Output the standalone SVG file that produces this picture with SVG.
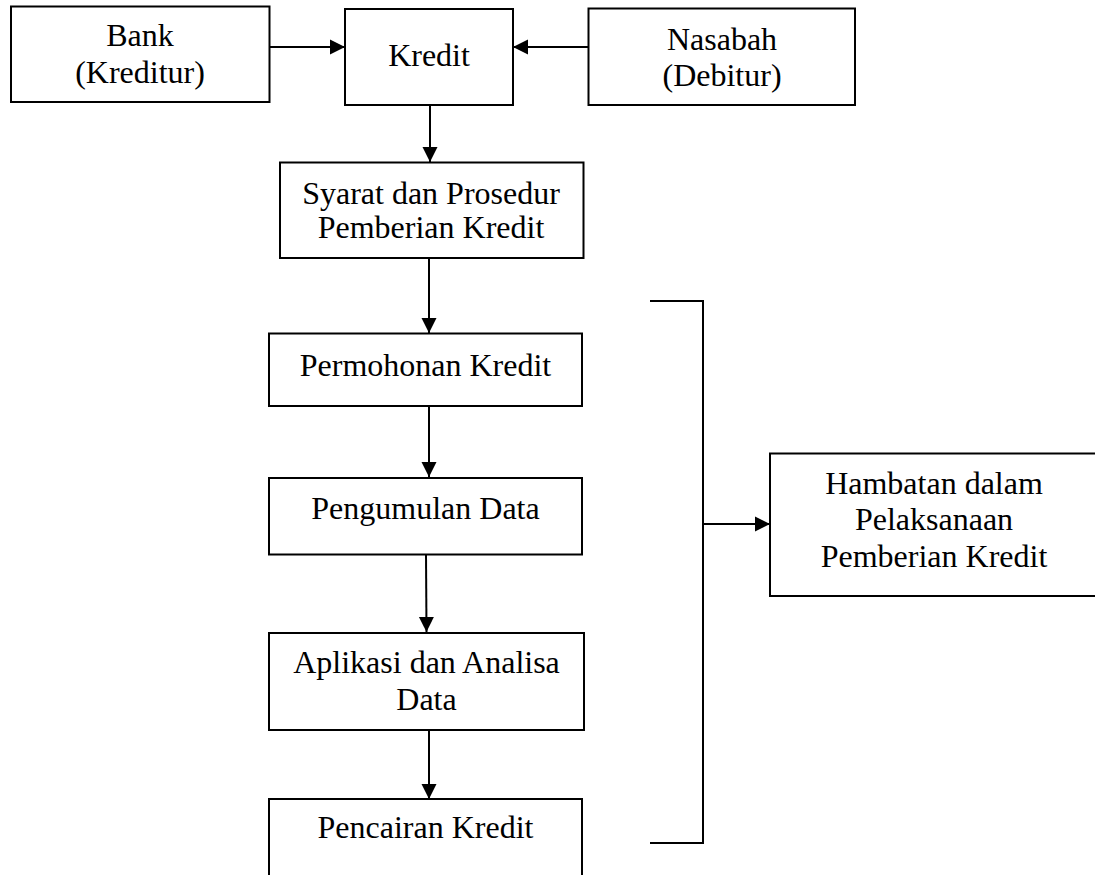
<svg xmlns="http://www.w3.org/2000/svg" width="1095" height="875" viewBox="0 0 1095 875">
<style>
.box{fill:#fff;stroke:#000;stroke-width:2}
.t{font-family:"Liberation Serif","Times New Roman",serif;font-size:32px;fill:#000;text-anchor:middle}
.c{fill:none;stroke:#000;stroke-width:2}
</style>
<defs>
<marker id="ah" markerUnits="userSpaceOnUse" markerWidth="16" markerHeight="16" refX="15" refY="8" orient="auto">
<path d="M0,0.5 L15,8 L0,15.5 Z" fill="#000"/>
</marker>
</defs>
<rect width="1095" height="875" fill="#fff"/>
<g id="connectors">
<line class="c" x1="270" y1="47" x2="345" y2="47" marker-end="url(#ah)"/>
<line class="c" x1="588" y1="47" x2="513" y2="47" marker-end="url(#ah)"/>
<line class="c" x1="430" y1="105" x2="430" y2="162" marker-end="url(#ah)"/>
<line class="c" x1="429" y1="258" x2="429" y2="333" marker-end="url(#ah)"/>
<line class="c" x1="429" y1="406" x2="429" y2="477" marker-end="url(#ah)"/>
<line class="c" x1="426" y1="554" x2="426.5" y2="632" marker-end="url(#ah)"/>
<line class="c" x1="429" y1="730" x2="429" y2="799" marker-end="url(#ah)"/>
<polyline class="c" points="650,301 703,301 703,843 650,843"/>
<line class="c" x1="703" y1="524" x2="770" y2="524" marker-end="url(#ah)"/>
</g>
<g id="bank">
<rect class="box" x="11" y="6.5" width="258.5" height="95.5"/>
<text class="t" x="140" y="45.5">Bank</text>
<text class="t" x="140" y="83">(Kreditur)</text>
</g>
<g id="kredit">
<rect class="box" x="345" y="9" width="168" height="96"/>
<text class="t" x="429" y="66">Kredit</text>
</g>
<g id="nasabah">
<rect class="box" x="588.5" y="8.5" width="266.5" height="96.5"/>
<text class="t" x="722" y="49.5">Nasabah</text>
<text class="t" x="722" y="86">(Debitur)</text>
</g>
<g id="syarat">
<rect class="box" x="280" y="162.5" width="303.5" height="95.5"/>
<text class="t" x="431" y="203.5">Syarat dan Prosedur</text>
<text class="t" x="431" y="237.5">Pemberian Kredit</text>
</g>
<g id="permohonan">
<rect class="box" x="269" y="333.5" width="313" height="72.5"/>
<text class="t" x="425.5" y="376">Permohonan Kredit</text>
</g>
<g id="pengumulan">
<rect class="box" x="269" y="478" width="313" height="76.5"/>
<text class="t" x="425.5" y="519">Pengumulan Data</text>
</g>
<g id="aplikasi">
<rect class="box" x="269" y="633" width="315" height="97"/>
<text class="t" x="426.5" y="673">Aplikasi dan Analisa</text>
<text class="t" x="426.5" y="709.5">Data</text>
</g>
<g id="pencairan">
<rect class="box" x="269" y="799" width="313" height="90"/>
<text class="t" x="425.5" y="837.5">Pencairan Kredit</text>
</g>
<g id="hambatan">
<rect class="box" x="770" y="453.5" width="335" height="142.5"/>
<text class="t" x="934" y="493.5">Hambatan dalam</text>
<text class="t" x="934" y="529.5">Pelaksanaan</text>
<text class="t" x="934" y="567">Pemberian Kredit</text>
</g>
</svg>
